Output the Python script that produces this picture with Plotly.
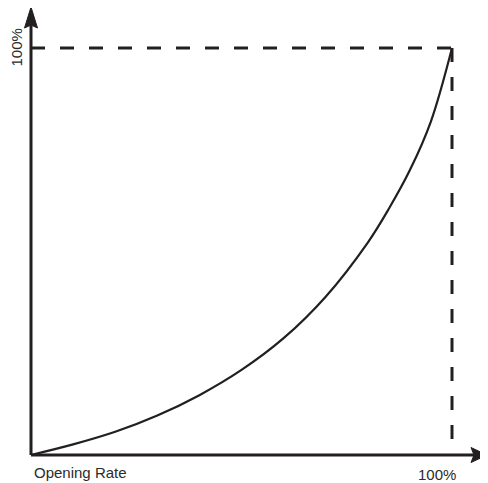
import plotly.graph_objects as go

# Data (equal-percentage style characteristic)
opening_rate = [0, 10, 20, 30, 40, 50, 60, 70, 80, 85, 90, 95, 100]
flow_rate = [0, 2.6, 5.7, 9.7, 14.7, 20.9, 28.7, 38.9, 52.2, 60.5, 70.0, 82.0, 100]

x_label = "Opening Rate"
x_max_label = "100%"
y_max_label = "100%"

WIN_W, WIN_H = 488, 483
OFF = 8  # default page body margin
W, H = WIN_W - OFF, WIN_H - OFF
# reference-pixel mapping: data x 0->31px, 100->452px ; y 0->455px, 100->48px
PX0, PX1 = 31, 452
PY0, PY1 = 455, 48
sx = (PX1 - PX0) / 100.0
sy = (PY0 - PY1) / 100.0

def dx(px):
    return (px - PX0) / sx

def dy(py):
    return (PY0 - py) / sy

line_col = "#231f20"
text_col = "#2b2b2b"

fig = go.Figure()
fig.add_trace(go.Scatter(
    x=opening_rate, y=flow_rate, mode="lines",
    line=dict(color=line_col, width=2.2, shape="spline", smoothing=1.0),
    hoverinfo="skip", showlegend=False))

shapes = []
# dashed guide lines
shapes.append(dict(type="line", xref="x", yref="y", x0=0, y0=100, x1=100, y1=100,
                   line=dict(color=line_col, width=3, dash="14px,15px")))
shapes.append(dict(type="line", xref="x", yref="y", x0=100, y0=100, x1=100, y1=0,
                   line=dict(color=line_col, width=3, dash="14px,15px")))
# axes
shapes.append(dict(type="line", xref="x", yref="y", x0=0, y0=0, x1=dx(474), y1=0,
                   line=dict(color=line_col, width=3)))
shapes.append(dict(type="line", xref="x", yref="y", x0=0, y0=0, x1=0, y1=dy(25),
                   line=dict(color=line_col, width=3)))
# arrowheads
xa = "M {} {} L {} {} L {} {} L {} {} Z".format(
    dx(487), dy(455), dx(471), dy(447.5), dx(474), dy(455), dx(471), dy(462.5))
ya = "M {} {} L {} {} L {} {} L {} {} Z".format(
    dx(31), dy(7), dx(24.5), dy(28), dx(31), dy(25), dx(37.5), dy(28))
shapes.append(dict(type="path", xref="x", yref="y", path=xa,
                   fillcolor=line_col, line=dict(color=line_col, width=1)))
shapes.append(dict(type="path", xref="x", yref="y", path=ya,
                   fillcolor=line_col, line=dict(color=line_col, width=1)))

font = dict(family="Liberation Sans, Arial, sans-serif", size=15, color=text_col)
annotations = [
    dict(x=dx(32), y=dy(472), xref="x", yref="y", text=x_label, showarrow=False,
         xanchor="left", yanchor="middle", font=font),
    dict(x=dx(437), y=dy(474), xref="x", yref="y", text=x_max_label, showarrow=False,
         xanchor="center", yanchor="middle", borderpad=0, font=font),
    dict(x=dx(15.5), y=dy(48), xref="x", yref="y", text=y_max_label, showarrow=False,
         xanchor="center", yanchor="middle", textangle=-90, font=font),
]

fig.update_layout(
    width=W, height=H,
    margin=dict(l=0, r=0, t=0, b=0),
    paper_bgcolor="white", plot_bgcolor="white",
    xaxis=dict(range=[dx(OFF), dx(WIN_W)], visible=False, fixedrange=True),
    yaxis=dict(range=[dy(WIN_H), dy(OFF)], visible=False, fixedrange=True),
    shapes=shapes, annotations=annotations,
)

fig.write_html("out.html")
